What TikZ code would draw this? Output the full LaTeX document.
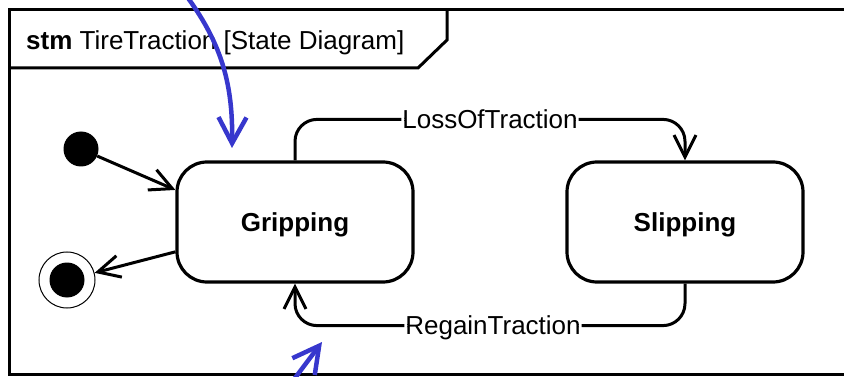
\documentclass[tikz,border=0pt]{standalone}
\usepackage{fontspec}
\setmainfont{Liberation Sans}
\usetikzlibrary{arrows.meta,calc}
\definecolor{annblue}{RGB}{55,55,205}
\begin{document}
\begin{tikzpicture}[x=1pt,y=-1pt,
  txt/.style={font=\fontsize{26}{31}\selectfont},
  state/.style={draw, line width=3.2pt, rounded corners=30pt, minimum width=236pt, minimum height=120pt, font=\fontsize{26}{31}\selectfont\bfseries, text height=18.6pt, text depth=0pt},
  trans/.style={line width=3pt, -{Straight Barb[length=22pt,width=22pt]}},
  lbl/.style={fill=white, inner sep=1pt, txt, text height=18.6pt, text depth=0pt},
  note/.style={draw=annblue, line width=4.5pt, -{Straight Barb[length=26pt,width=28pt]}}
]
\useasboundingbox (0,0) rectangle (844,377);
\clip (0,0) rectangle (844,377);
\draw[line width=3pt] (9,10) rectangle (860,374);
\draw[line width=3pt] (9,68) -- (418,68) -- (447,40) -- (447,10);
\node[txt, anchor=base west, inner sep=0pt] (title) at (26,50) {\textbf{stm} TireTraction [State Diagram]};

\node[state] (grip) at (295,222) {Gripping};
\node[state] (slip) at (685,222) {Slipping};
\node[circle, fill=black, minimum size=35pt, inner sep=0pt] (init) at (81,149) {};
\node[circle, draw, line width=1pt, minimum size=56pt, inner sep=0pt] (final) at (67,280) {};
\node[circle, fill=black, minimum size=35pt, inner sep=0pt] (finalin) at (final) {};

\draw[trans] (init) -- (grip.165.7);
\draw[trans] (grip.194.3) -- (final);
\draw[trans, rounded corners=22pt] (grip.north) -- ++(0,-41) -| (slip.north) node[lbl, pos=0.25] (lt) {LossOfTraction};
\draw[trans, rounded corners=22pt] (slip.south) -- ++(0,42) -| (grip.south) node[lbl, pos=0.25, xshift=3pt] (rt) {RegainTraction};

\coordinate (n1s) at (188,-2);
\coordinate (n1e) at (232,148);
\draw[note] (n1s) .. controls (222,45) and (233,85) .. (n1e);
\coordinate (n2s) at (292,382);
\coordinate (n2e) at (322,342);
\draw[note] (n2s) -- (n2e);
\end{tikzpicture}
\end{document}
